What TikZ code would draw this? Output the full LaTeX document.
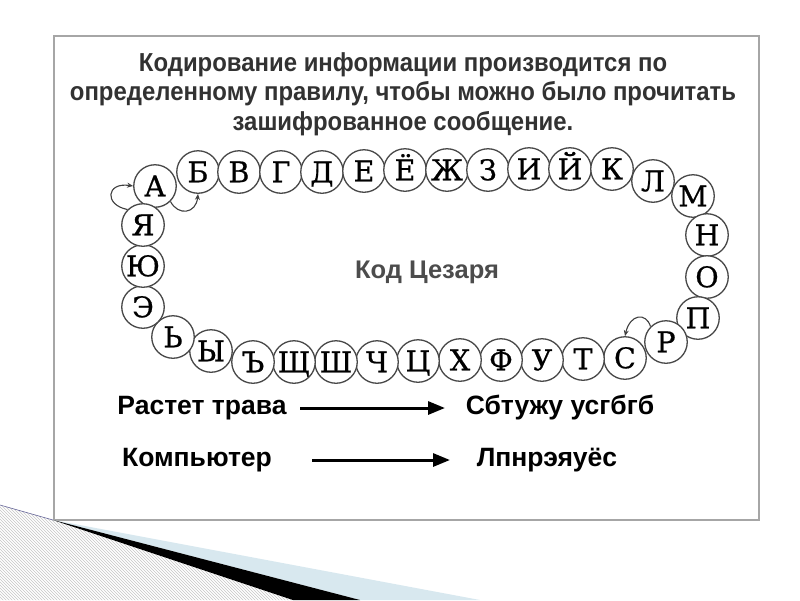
\documentclass[tikz,border=0pt]{standalone}
\usepackage{fontspec}
\setmainfont{Liberation Sans}
\newfontfamily\titlefont[FakeStretch=0.92]{Liberation Sans}
\newfontfamily\ringfont[FakeBold=0.7]{DejaVu Serif}
\usetikzlibrary{arrows.meta,patterns}
\definecolor{swblue}{RGB}{216,232,239}
\definecolor{titlegray}{RGB}{50,50,50}
\tikzset{
  letter/.style={circle,draw=black!72,line width=1.3pt,fill=white,minimum size=42.5pt,inner sep=0pt,
    text height=20.5pt,text depth=0pt,
    font=\ringfont\fontsize{28.5}{28.5}\selectfont},
  ringarrow/.style={draw=black!75,line width=1.1pt,-{Stealth[length=6pt,width=5pt]}},
  bigarrow/.style={line width=3pt,-{Triangle[length=17pt,width=13pt]}},
  lowtext/.style={font=\bfseries\fontsize{26.5}{26.5}\selectfont,inner sep=0pt}
}
\begin{document}
\begin{tikzpicture}[x=1pt,y=-1pt]
\useasboundingbox (0,0) rectangle (800,600);
% frame
\draw[gray!70,line width=1.5pt,fill=white] (54,36) rectangle (759,520);
% swoosh
\fill[white] (0,505) -- (53,520) -- (293,600) -- (0,600) -- cycle;
\fill[pattern=north west lines,pattern color=gray!45] (0,505) -- (53,520) -- (293,600) -- (0,600) -- cycle;
\draw[gray!80!blue,line width=0.6pt] (0,505) -- (53,520);
\fill[swblue] (53,520) -- (480,600) -- (360,600) -- cycle;
\fill[black] (53,520) -- (360,600) -- (293,600) -- cycle;
% title
\node[font=\titlefont\bfseries\fontsize{26}{29.5}\selectfont,text=titlegray,align=center] (title) at (403,94)
  {Кодирование информации производится по\\определенному правилу, чтобы можно было прочитать\\зашифрованное сообщение.};
% ring
\node[letter] (c1) at (155,186) {А};
\node[letter] (c2) at (198,172) {Б};
\node[letter] (c3) at (239,172) {В};
\node[letter] (c4) at (281,172) {Г};
\node[letter] (c5) at (322,172) {Д};
\node[letter] (c6) at (364,171) {Е};
\node[letter] (c7) at (405,170) {Ё};
\node[letter] (c8) at (447,170) {Ж};
\node[letter] (c9) at (488,170) {З};
\node[letter] (c10) at (529,169) {И};
\node[letter] (c11) at (570,169) {Й};
\node[letter] (c12) at (612,169) {К};
\node[letter] (c13) at (653,181) {Л};
\node[letter] (c14) at (693,196) {М};
\node[letter] (c15) at (707,235) {Н};
\node[letter] (c16) at (707,277) {О};
\node[letter] (c17) at (698,318) {П};
\node[letter] (c18) at (666,342) {Р};
\node[letter] (c19) at (625,358) {С};
\node[letter] (c20) at (583,359) {Т};
\node[letter] (c21) at (542,360) {У};
\node[letter] (c22) at (501,360) {Ф};
\node[letter] (c23) at (460,360) {Х};
\node[letter] (c24) at (418,361) {Ц};
\node[letter] (c25) at (377,362) {Ч};
\node[letter] (c26) at (336,362) {Ш};
\node[letter] (c27) at (294,362) {Щ};
\node[letter] (c28) at (253,362) {Ъ};
\node[letter] (c29) at (211,351) {Ы};
\node[letter] (c30) at (173,337) {Ь};
\node[letter] (c31) at (143,307) {Э};
\node[letter] (c32) at (143,266) {Ю};
\node[letter] (c33) at (143,225) {Я};
% ring arrows
\draw[ringarrow] (c33.north west) .. controls (104,205) and (106,182) .. (c1.west);
\draw[ringarrow] (c1.south east) .. controls (178,216) and (196,214) .. (c2.south);
\draw[ringarrow] (c18.north west) .. controls (646,312) and (630,314) .. (c19.north);
% center label
\node[font=\bfseries\fontsize{25.5}{25.5}\selectfont,text=black!70] (code) at (427,272) {Код Цезаря};
% bottom lines
\node[lowtext] (r1) at (202,408) {Растет трава};
\node[lowtext] (r2) at (560,408) {Сбтужу усгбгб};
\node[lowtext] (k1) at (197,460) {Компьютер};
\node[lowtext] (k2) at (547,460) {Лпнрэяуёс};
\coordinate (a1s) at (300,408);
\coordinate (a1e) at (445,408);
\coordinate (a2s) at (312,460);
\coordinate (a2e) at (450,460);
\draw[bigarrow] (a1s) -- (a1e);
\draw[bigarrow] (a2s) -- (a2e);
\end{tikzpicture}
\end{document}
